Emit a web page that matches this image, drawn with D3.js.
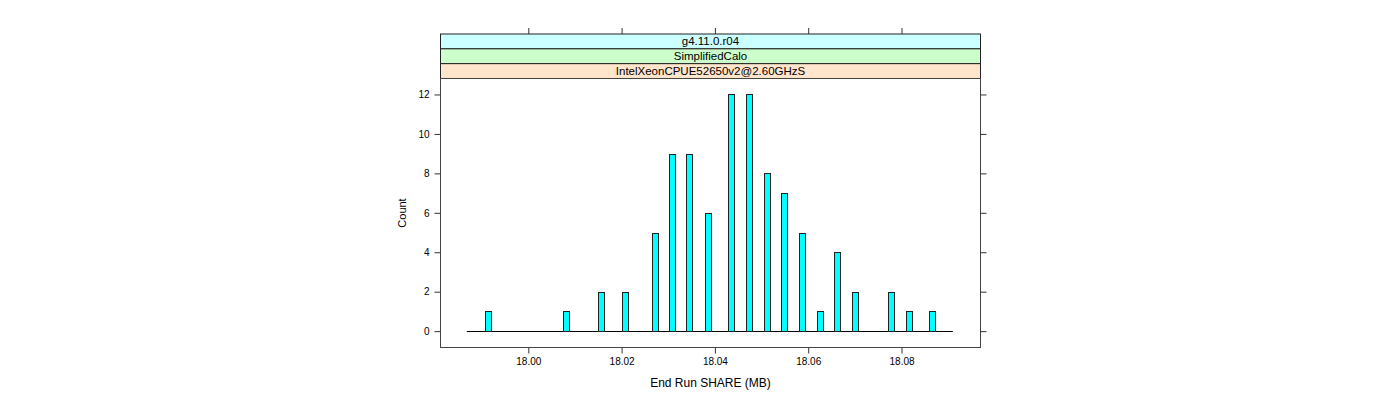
<!DOCTYPE html>
<html>
<head>
<meta charset="utf-8">
<script src="https://cdn.jsdelivr.net/npm/d3@7"></script>
<style>
  html, body { margin: 0; padding: 0; background: #fff; }
  svg { display: block; font-family: "Liberation Sans", Arial, Helvetica, sans-serif; }
</style>
</head>
<body>
<svg id="chart" width="1400" height="400"></svg>
<script>
// ---- data ----
const binStartsMB = [17.99078, 18.00737, 18.01488, 18.02002, 18.02641, 18.03016, 18.03391, 18.03777,
                     18.04287, 18.04667, 18.05046, 18.05423, 18.05809, 18.06182, 18.06560, 18.06945,
                     18.07704, 18.08097, 18.08596];
const counts = [1, 1, 2, 2, 5, 9, 9, 6, 12, 12, 8, 7, 5, 1, 4, 2, 2, 1, 1];
const binWidthMB = 0.00129;
const breaksRange = [17.98683, 18.09101];
const xTicks = [18.00, 18.02, 18.04, 18.06, 18.08];
const yTicks = [0, 2, 4, 6, 8, 10, 12];
const stripLabels = ["g4.11.0.r04", "SimplifiedCalo", "IntelXeonCPUE52650v2@2.60GHzS"];
const stripColors = ["#ccffff", "#ccffcc", "#ffe5cc"];
const xLabel = "End Run SHARE (MB)";
const yLabel = "Count";

// ---- layout ----
const panel = { left: 440.5, right: 980.5, top: 78.5, bottom: 347.5 };
const stripTop = 34, stripH = 14.83;

const svg = d3.select("#chart");

const x = d3.scaleLinear().domain([17.98118, 18.09693]).range([panel.left, panel.right]);
const y = d3.scaleLinear().domain([-0.83, 12.81]).range([panel.bottom, panel.top]);

// strips
stripLabels.forEach((lab, i) => {
  const y0 = stripTop + i * stripH;
  svg.append("rect")
    .attr("x", panel.left).attr("y", y0)
    .attr("width", panel.right - panel.left).attr("height", stripH)
    .attr("fill", stripColors[i]).attr("stroke", "#222").attr("stroke-width", 1);
  svg.append("text")
    .attr("x", (panel.left + panel.right) / 2).attr("y", y0 + stripH / 2 + 4)
    .attr("text-anchor", "middle").attr("font-size", "11.5px").attr("fill", "#000")
    .text(lab);
});

// panel border
svg.append("rect")
  .attr("x", panel.left).attr("y", panel.top)
  .attr("width", panel.right - panel.left).attr("height", panel.bottom - panel.top)
  .attr("fill", "none").attr("stroke", "#444").attr("stroke-width", 1);

// axes
function styleAxis(g) {
  g.select(".domain").remove();
  g.selectAll(".tick line").attr("stroke", "#333");
  g.selectAll(".tick text").attr("fill", "#000").attr("font-size", "10px")
    .attr("font-family", "'Liberation Sans', Arial, sans-serif");
}
svg.append("g").attr("transform", `translate(0,${panel.bottom})`)
  .call(d3.axisBottom(x).tickValues(xTicks).tickFormat(d3.format(".2f")).tickSize(6).tickPadding(4))
  .call(styleAxis);
svg.append("g").attr("transform", `translate(0,${stripTop})`)
  .call(d3.axisTop(x).tickValues(xTicks).tickFormat("").tickSize(6))
  .call(styleAxis);
svg.append("g").attr("transform", `translate(${panel.left},0)`)
  .call(d3.axisLeft(y).tickValues(yTicks).tickFormat(d3.format("d")).tickSize(6).tickPadding(5))
  .call(styleAxis);
svg.append("g").attr("transform", `translate(${panel.right},0)`)
  .call(d3.axisRight(y).tickValues(yTicks).tickFormat("").tickSize(6))
  .call(styleAxis);

// baseline (empty bins)
svg.append("line")
  .attr("x1", x(breaksRange[0])).attr("x2", x(breaksRange[1]))
  .attr("y1", Math.round(y(0)) + 0.5).attr("y2", Math.round(y(0)) + 0.5)
  .attr("stroke", "#000").attr("stroke-width", 1);

// bars
svg.append("g").selectAll("rect")
  .data(binStartsMB.map((v, i) => ({ v, c: counts[i] })))
  .join("rect")
  .attr("x", d => Math.round(x(d.v)) + 0.5)
  .attr("y", d => Math.round(y(d.c)) + 0.5)
  .attr("width", d => Math.round(x(d.v + binWidthMB) - x(d.v)))
  .attr("height", d => Math.round(y(0)) - Math.round(y(d.c)))
  .attr("fill", "#00ffff").attr("stroke", "#222").attr("stroke-width", 1);

// axis titles
svg.append("text")
  .attr("x", (panel.left + panel.right) / 2).attr("y", 387)
  .attr("text-anchor", "middle").attr("font-size", "12px").attr("fill", "#000")
  .text(xLabel);
svg.append("text")
  .attr("transform", `translate(406,${(panel.top + panel.bottom) / 2}) rotate(-90)`)
  .attr("text-anchor", "middle").attr("font-size", "11px").attr("fill", "#000")
  .text(yLabel);
</script>
</body>
</html>
